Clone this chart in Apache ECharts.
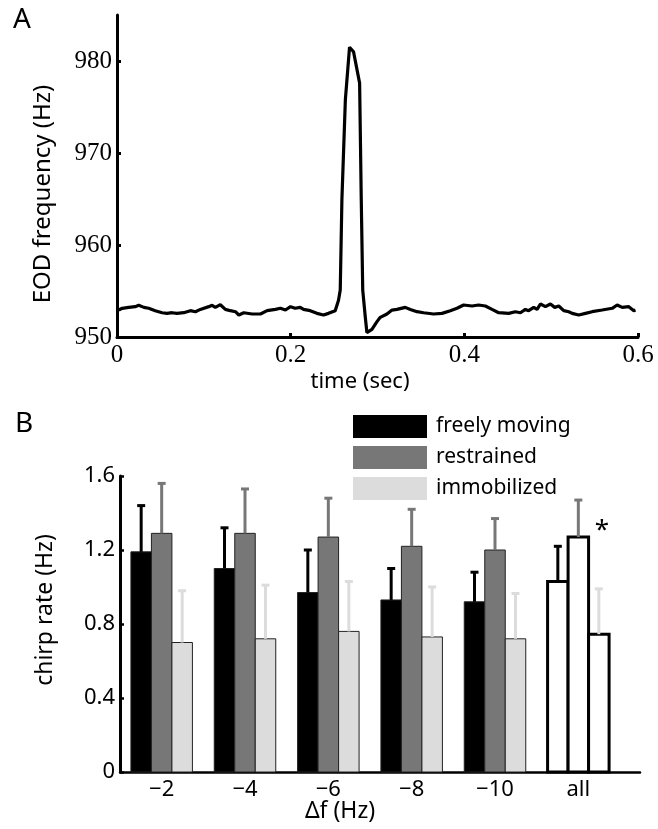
<!DOCTYPE html>
<html lang="en">

<head>
  <meta charset="UTF-8">
  <title>EOD chirps</title>
  <script src="https://cdn.jsdelivr.net/npm/echarts@6/dist/echarts.min.js"></script>
</head>

<body style="margin:0">
  <div id="main" style="width: 658px;height: 829px;"></div>
</body>
<script>
  // panel A: EOD frequency trace
  var timeSec = [0.002, 0.006, 0.0135, 0.021, 0.025, 0.031, 0.0365, 0.044, 0.052, 0.0576, 0.0634, 0.069,
    0.0769, 0.0845, 0.0903, 0.096, 0.1057, 0.1095, 0.1133, 0.119, 0.1248, 0.1306, 0.1364, 0.1403, 0.146,
    0.1556, 0.1652, 0.1729, 0.1825, 0.1882, 0.194, 0.1998, 0.2052, 0.211, 0.2148, 0.2225, 0.2302, 0.2378,
    0.2436, 0.2513, 0.2551, 0.2571, 0.259, 0.263, 0.2678, 0.2724, 0.2794, 0.2813, 0.283, 0.2859, 0.2878,
    0.2936, 0.2994, 0.3032, 0.3109, 0.3167, 0.3224, 0.332, 0.3378, 0.3455, 0.3531, 0.3646, 0.3743, 0.3839,
    0.3916, 0.3992, 0.4089, 0.4165, 0.4242, 0.4319, 0.4395, 0.4511, 0.4588, 0.4646, 0.4703, 0.4741, 0.4799,
    0.4838, 0.4876, 0.4934, 0.4991, 0.5041, 0.5087, 0.5145, 0.5202, 0.5242, 0.5318, 0.5395, 0.5472, 0.5587,
    0.5703, 0.576, 0.5818, 0.5894, 0.5952, 0.5971]
  var eodHz = [952.93, 953.12, 953.22, 953.3, 953.44, 953.22, 953.12, 952.86, 952.64, 952.57, 952.64, 952.57,
    952.64, 952.86, 952.75, 953.0, 953.3, 953.44, 953.22, 953.51, 953.0, 952.86, 952.75, 952.39, 952.64,
    952.5, 952.5, 952.86, 953.0, 953.12, 952.93, 953.3, 953.12, 953.22, 953.0, 952.86, 952.57, 952.39,
    952.57, 952.86, 954.0, 955.1, 964.9, 975.8, 981.5, 981.0, 977.6, 964.9, 955.1, 952.2, 950.47,
    950.83, 951.67, 952.14, 952.5, 952.93, 953.0, 953.22, 953.0, 952.75, 952.64, 952.5, 952.57, 952.86,
    953.12, 953.48, 953.37, 953.48, 953.37, 953.0, 952.64, 952.57, 952.75, 952.64, 953.0, 952.86, 953.22,
    953.0, 953.59, 953.3, 953.59, 953.22, 953.37, 952.86, 952.75, 952.57, 952.39, 952.57, 952.75, 952.93,
    953.12, 953.48, 953.22, 953.3, 952.86, 952.93]
  var yTicksA = [950, 960, 970, 980]

  // panel B: chirp rates, mean and top of error bar
  var groups = ['−2', '−4', '−6', '−8', '−10', 'all']
  var freelyMean = [1.19, 1.10, 0.97, 0.93, 0.92, 1.03]
  var freelyTop = [1.44, 1.32, 1.20, 1.10, 1.08, 1.22]
  var restrainedMean = [1.29, 1.29, 1.27, 1.22, 1.20, 1.27]
  var restrainedTop = [1.56, 1.53, 1.48, 1.42, 1.37, 1.47]
  var immobMean = [0.70, 0.72, 0.76, 0.73, 0.72, 0.745]
  var immobTop = [0.98, 1.01, 1.03, 1.00, 0.965, 0.99]

  var sans = 'Noto Sans'
  var serif = 'Liberation Serif'

  function pairs(mean, top) {
    return groups.map(function (g, i) { return [i + 1, mean[i], top[i]] })
  }

  function barItem(slot, fill, errColor, star) {
    return function (params, api) {
      var x = api.value(0)
      var mid = api.coord([x, api.value(1)])
      var base = api.coord([x, 0])
      var err = api.coord([x, api.value(2)])
      var bw = api.size([1, 0])[0] * 0.246
      var cx = mid[0] + slot * bw
      var isAll = groups[params.dataIndex] === 'all'
      var children = [
        {
          type: 'rect',
          shape: { x: cx - bw / 2, y: mid[1], width: bw, height: base[1] - mid[1] },
          style: { fill: isAll ? '#fff' : fill, stroke: isAll ? '#000' : '#222', lineWidth: isAll ? 3 : 1 }
        },
        { type: 'line', shape: { x1: cx, y1: mid[1], x2: cx, y2: err[1] }, style: { stroke: errColor, lineWidth: 3 } },
        { type: 'line', shape: { x1: cx - 4, y1: err[1], x2: cx + 4, y2: err[1] }, style: { stroke: errColor, lineWidth: 3 } }
      ]
      if (star && isAll) {
        children.push({
          type: 'text', x: cx + bw * 1.15, y: mid[1] - 6,
          style: { text: '*', font: '26px ' + sans, fill: '#000', align: 'center', verticalAlign: 'middle' }
        })
      }
      return { type: 'group', children: children }
    }
  }

  var chart = echarts.init(document.getElementById('main'))
  var option = {
    backgroundColor: '#fff',
    animation: false,
    grid: [
      { left: 117, right: 20, top: 15, bottom: 492 },
      { left: 120, right: 18, top: 476, bottom: 57 }
    ],
    legend: {
      data: ['freely moving', 'restrained', 'immobilized'],
      orient: 'vertical',
      left: 348,
      top: 410,
      icon: 'rect',
      itemWidth: 74,
      itemHeight: 23,
      itemGap: 8,
      itemStyle: { borderWidth: 0 },
      textStyle: { fontFamily: sans, fontSize: 21, color: '#000', padding: [0, 0, 0, 4] }
    },
    xAxis: [
      {
        type: 'value', gridIndex: 0, min: 0, max: 0.6, interval: 0.2,
        axisLine: { onZero: false, lineStyle: { color: '#000', width: 3 } },
        axisTick: { inside: true, length: 4, lineStyle: { color: '#000', width: 3 } },
        axisLabel: { fontFamily: serif, fontSize: 25, color: '#000', margin: 6 },
        splitLine: { show: false }
      },
      {
        type: 'value', gridIndex: 1, min: 0.5, max: 6.74,
        axisLine: { onZero: false, lineStyle: { color: '#000', width: 2.5 } },
        axisTick: { show: false },
        axisLabel: {
          customValues: [1, 2, 3, 4, 5, 6],
          formatter: function (v) { return groups[v - 1] },
          fontFamily: sans, fontSize: 22, color: '#000', margin: 7
        },
        splitLine: { show: false }
      }
    ],
    yAxis: [
      {
        type: 'value', gridIndex: 0, min: 950, max: 985,
        axisLine: { show: true, lineStyle: { color: '#000', width: 3 } },
        axisTick: { show: true, inside: true, length: 4, customValues: yTicksA, lineStyle: { color: '#000', width: 3 } },
        axisLabel: { customValues: yTicksA, fontFamily: serif, fontSize: 25, color: '#000', margin: 5 },
        splitLine: { show: false }
      },
      {
        type: 'value', gridIndex: 1, min: 0, max: 1.6, interval: 0.4,
        axisLine: { show: true, lineStyle: { color: '#000', width: 3 } },
        axisTick: { show: true, inside: true, length: 4, lineStyle: { color: '#000', width: 2.5 } },
        axisLabel: { fontFamily: sans, fontSize: 22, color: '#000', margin: 5 },
        splitLine: { show: false }
      }
    ],
    graphic: [
      { type: 'text', left: 13, top: 6, style: { text: 'A', font: '28px ' + sans, fill: '#000' } },
      { type: 'text', left: 15, top: 410, style: { text: 'B', font: '28px ' + sans, fill: '#000' } },
      {
        type: 'text', x: 43, y: 194, rotation: Math.PI / 2,
        style: { text: 'EOD frequency (Hz)', font: '24px ' + sans, fill: '#000', align: 'center', verticalAlign: 'middle' }
      },
      {
        type: 'text', x: 360, y: 382,
        style: { text: 'time (sec)', font: '22px ' + sans, fill: '#000', align: 'center', verticalAlign: 'middle' }
      },
      {
        type: 'text', x: 45, y: 610, rotation: Math.PI / 2,
        style: { text: 'chirp rate (Hz)', font: '23px ' + sans, fill: '#000', align: 'center', verticalAlign: 'middle' }
      },
      {
        type: 'text', x: 340, y: 811,
        style: { text: 'Δf (Hz)', font: '23px ' + sans, fill: '#000', align: 'center', verticalAlign: 'middle' }
      }
    ],
    series: [
      {
        type: 'line', xAxisIndex: 0, yAxisIndex: 0,
        data: timeSec.map(function (t, i) { return [t, eodHz[i]] }),
        showSymbol: false,
        lineStyle: { color: '#000', width: 3.2 },
        itemStyle: { color: '#000' }
      },
      {
        name: 'freely moving', type: 'custom', xAxisIndex: 1, yAxisIndex: 1,
        itemStyle: { color: '#000' },
        renderItem: barItem(-1, '#000', '#000', false),
        encode: { x: 0, y: 1 },
        data: pairs(freelyMean, freelyTop)
      },
      {
        name: 'restrained', type: 'custom', xAxisIndex: 1, yAxisIndex: 1,
        itemStyle: { color: '#777' },
        renderItem: barItem(0, '#777', '#777', true),
        encode: { x: 0, y: 1 },
        data: pairs(restrainedMean, restrainedTop)
      },
      {
        name: 'immobilized', type: 'custom', xAxisIndex: 1, yAxisIndex: 1,
        itemStyle: { color: '#dcdcdc' },
        renderItem: barItem(1, '#dcdcdc', '#dcdcdc', false),
        encode: { x: 0, y: 1 },
        data: pairs(immobMean, immobTop)
      }
    ]
  }
  chart.setOption(option)
</script>

</html>
